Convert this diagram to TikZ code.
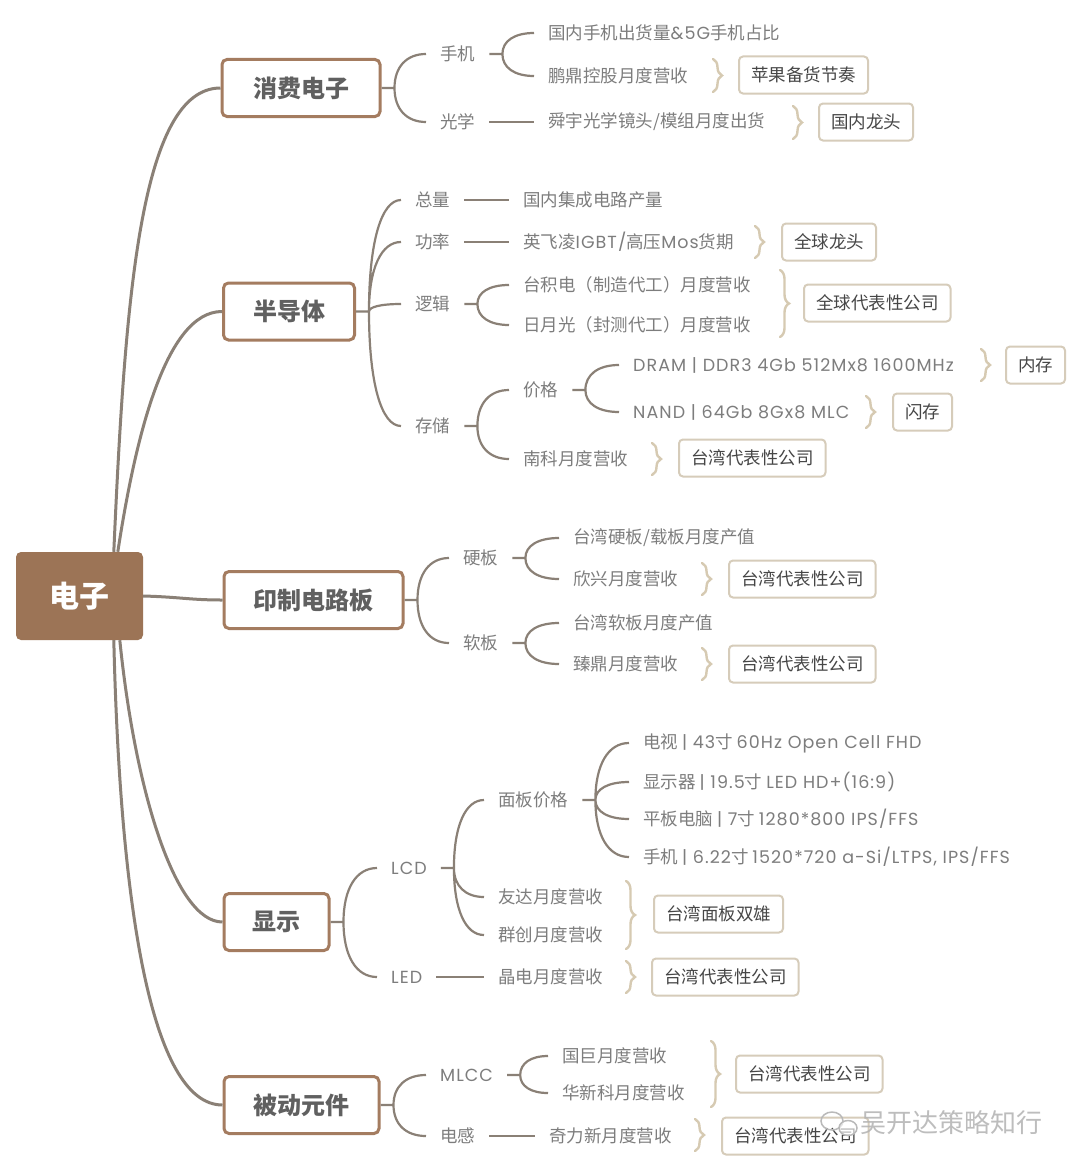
\documentclass[tikz,border=0pt]{standalone}
\usepackage{fontspec}
\setmainfont{Noto Sans CJK SC}
\newfontfamily\lat{Poppins}[LetterSpace=6]
\usetikzlibrary{calc,decorations.pathreplacing}
\definecolor{rootfill}{RGB}{156,116,86}
\definecolor{lborder}{RGB}{164,124,96}
\definecolor{ltext}{RGB}{96,96,96}
\definecolor{linec}{RGB}{138,128,118}
\definecolor{subtext}{RGB}{125,125,125}
\definecolor{boxborder}{RGB}{214,204,186}
\definecolor{boxtext}{RGB}{70,70,70}
\definecolor{bracec}{RGB}{214,202,178}
\newcommand\brc[3]{\draw[bracest] (#1,#2) -- (#1,#3);}
\begin{document}
\begin{tikzpicture}[x=1pt,y=-1pt,
 rootst/.style={fill=rootfill, rounded corners=5pt, minimum width=127pt, minimum height=88pt, text=white, font=\fontsize{30}{32}\selectfont\bfseries, inner sep=0pt},
 lone/.style={draw=lborder, line width=3pt, fill=white, rounded corners=5pt, minimum height=57pt, text=ltext, font=\fontsize{24}{26}\selectfont\bfseries, inner sep=0pt},
 txt/.style={anchor=west, xshift=-14pt, inner xsep=14pt, inner ysep=1pt, text=subtext, font=\fontsize{17.5}{20}\selectfont},
 sbox/.style={anchor=west, draw=boxborder, line width=2pt, rounded corners=4pt, inner xsep=12pt, inner ysep=0pt, minimum height=37pt, text=boxtext, font=\fontsize{17.5}{20}\selectfont},
 mainln/.style={draw=linec, line width=3pt},
 subln/.style={draw=linec, line width=2.2pt},
 bracest/.style={draw=bracec, line width=2.4pt, line cap=round, decorate, decoration={brace, amplitude=9pt, aspect=0.5}},
 fanto/.style={to path={.. controls ($(\tikztostart)!0.62!(\tikztostart |- \tikztotarget)$) and ($(\tikztotarget)!0.62!(\tikztostart |- \tikztotarget)$) .. (\tikztotarget)}},
]
\useasboundingbox[fill=white] (0,0) rectangle (1080,1172);

% root
\node[rootst] (root) at (79.5,596) {电子};

% level 1
\node[lone, minimum width=158pt] (s1) at (301,88) {消费电子};
\node[lone, minimum width=131pt] (s2) at (289,311.5) {半导体};
\node[lone, minimum width=179pt] (s3) at (313.5,600) {印制电路板};
\node[lone, minimum width=105pt] (s4) at (276.5,922) {显示};
\node[lone, minimum width=155pt] (s5) at (301.5,1105) {被动元件};

% root connectors
\draw[mainln] ($(root.north west)+(98,0)$) .. controls (125,300) and (140,88) .. (s1.west);
\draw[mainln] ($(root.north west)+(102,0)$) .. controls (135,440) and (165,311.5) .. (s2.west);
\draw[mainln] (root.east) .. controls (180,597) and (190,600) .. (s3.west);
\draw[mainln] ($(root.south west)+(104,0)$) .. controls (135,790) and (175,922) .. (s4.west);
\draw[mainln] ($(root.south west)+(98,0)$) .. controls (120,900) and (150,1105) .. (s5.west);

% ---------- 消费电子
\node[txt] (a1) at (440,54) {手机};
\node[txt] (a2) at (440,122) {光学};
\node[txt] (a11) at (548,33) {国内手机出货量{\lat\&5G}手机占比};
\node[txt] (a12) at (548,76) {鹏鼎控股月度营收};
\node[txt] (a21) at (548,122) {舜宇光学镜头/模组月度出货};
\node[sbox] (b1) at (738,75) {苹果备货节奏};
\node[sbox] (b2) at (818,122) {国内龙头};
\brc{713}{59}{92}
\brc{793}{106}{139}
\coordinate (J1) at ($(s1.east)+(13,0)$);
\draw[subln] (s1.east) -- (J1) (J1) to[fanto] (a1.west) (J1) to[fanto] (a2.west);
\coordinate (Ja1) at ($(a1.east)+(13,0)$);
\draw[subln] (a1.east) -- (Ja1) (Ja1) to[fanto] (a11.west) (Ja1) to[fanto] (a12.west);
\draw[subln] (a2.east) -- (a21.west);

% ---------- 半导体
\node[txt] (c1) at (415,200) {总量};
\node[txt] (c2) at (415,242) {功率};
\node[txt] (c3) at (415,304) {逻辑};
\node[txt] (c4) at (415,426) {存储};
\node[txt] (c11) at (523,200) {国内集成电路产量};
\node[txt] (c21) at (523,242) {英飞凌{\lat IGBT/}高压{\lat Mos}货期};
\node[txt] (c31) at (523,285) {台积电（制造代工）月度营收};
\node[txt] (c32) at (523,325) {日月光（封测代工）月度营收};
\node[txt] (c41) at (523,390) {价格};
\node[txt] (c42) at (523,459) {南科月度营收};
\node[txt] (c411) at (633,365) {\lat DRAM | DDR3 4Gb 512Mx8 1600MHz};
\node[txt] (c412) at (633,412) {\lat NAND | 64Gb 8Gx8 MLC};
\node[sbox] (b3) at (781,242) {全球龙头};
\node[sbox] (b4) at (803,303) {全球代表性公司};
\node[sbox] (b5) at (1005,365) {内存};
\node[sbox] (b6) at (892,412) {闪存};
\node[sbox] (b7) at (678,458) {台湾代表性公司};
\brc{755}{226}{258}
\brc{780}{270}{337}
\brc{981}{349}{381}
\brc{866}{396}{428}
\brc{652}{443}{475}
\coordinate (J2) at ($(s2.east)+(13,0)$);
\draw[subln] (s2.east) -- (J2) (J2) to[fanto] (c1.west) (J2) to[fanto] (c2.west) (J2) to[fanto] (c3.west) (J2) to[fanto] (c4.west);
\draw[subln] (c1.east) -- (c11.west);
\draw[subln] (c2.east) -- (c21.west);
\coordinate (Jc3) at ($(c3.east)+(13,0)$);
\draw[subln] (c3.east) -- (Jc3) (Jc3) to[fanto] (c31.west) (Jc3) to[fanto] (c32.west);
\coordinate (Jc4) at ($(c4.east)+(13,0)$);
\draw[subln] (c4.east) -- (Jc4) (Jc4) to[fanto] (c41.west) (Jc4) to[fanto] (c42.west);
\coordinate (Jc41) at ($(c41.east)+(13,0)$);
\draw[subln] (c41.east) -- (Jc41) (Jc41) to[fanto] (c411.west) (Jc41) to[fanto] (c412.west);

% ---------- 印制电路板
\node[txt] (d1) at (463,558) {硬板};
\node[txt] (d2) at (463,643) {软板};
\node[txt] (d11) at (573,538) {台湾硬板/载板月度产值};
\node[txt] (d12) at (573,579) {欣兴月度营收};
\node[txt] (d21) at (573,623) {台湾软板月度产值};
\node[txt] (d22) at (573,664) {臻鼎月度营收};
\node[sbox] (b8) at (728,579) {台湾代表性公司};
\node[sbox] (b9) at (728,664) {台湾代表性公司};
\brc{702}{563}{595}
\brc{702}{648}{680}
\coordinate (J3) at ($(s3.east)+(13,0)$);
\draw[subln] (s3.east) -- (J3) (J3) to[fanto] (d1.west) (J3) to[fanto] (d2.west);
\coordinate (Jd1) at ($(d1.east)+(13,0)$);
\draw[subln] (d1.east) -- (Jd1) (Jd1) to[fanto] (d11.west) (Jd1) to[fanto] (d12.west);
\coordinate (Jd2) at ($(d2.east)+(13,0)$);
\draw[subln] (d2.east) -- (Jd2) (Jd2) to[fanto] (d21.west) (Jd2) to[fanto] (d22.west);

% ---------- 显示
\node[txt] (e1) at (391,868) {\lat LCD};
\node[txt] (e2) at (391,977) {\lat LED};
\node[txt] (e11) at (498,800) {面板价格};
\node[txt] (e12) at (498,897) {友达月度营收};
\node[txt] (e13) at (498,935) {群创月度营收};
\node[txt] (e111) at (643,743) {电视\ {\lat |\ 43}寸\ {\lat 60Hz Open Cell FHD}};
\node[txt] (e112) at (643,782) {显示器\ {\lat |\ 19.5}寸\ {\lat LED HD+(16:9)}};
\node[txt] (e113) at (643,819) {平板电脑\ {\lat |\ 7}寸\ {\lat 1280*800 IPS/FFS}};
\node[txt] (e114) at (643,857) {手机\ {\lat |\ 6.22}寸\ {\lat 1520*720 a-Si/LTPS, IPS/FFS}};
\node[txt] (e21) at (498,977) {晶电月度营收};
\node[sbox] (b10) at (653,914) {台湾面板双雄};
\node[sbox] (b11) at (651,977) {台湾代表性公司};
\brc{626}{881}{949}
\brc{626}{961}{993}
\coordinate (J4) at ($(s4.east)+(13,0)$);
\draw[subln] (s4.east) -- (J4) (J4) to[fanto] (e1.west) (J4) to[fanto] (e2.west);
\coordinate (Je1) at ($(e1.east)+(13,0)$);
\draw[subln] (e1.east) -- (Je1) (Je1) to[fanto] (e11.west) (Je1) to[fanto] (e12.west) (Je1) to[fanto] (e13.west);
\coordinate (Je11) at ($(e11.east)+(13,0)$);
\draw[subln] (e11.east) -- (Je11) (Je11) to[fanto] (e111.west) (Je11) to[fanto] (e112.west) (Je11) to[fanto] (e113.west) (Je11) to[fanto] (e114.west);
\draw[subln] (e2.east) -- (e21.west);

% ---------- 被动元件
\node[txt] (f1) at (440,1075) {\lat MLCC};
\node[txt] (f2) at (440,1136) {电感};
\node[txt] (f11) at (562,1056) {国巨月度营收};
\node[txt] (f12) at (562,1093) {华新科月度营收};
\node[txt] (f21) at (549,1136) {奇力新月度营收};
\node[sbox] (b12) at (735,1074) {台湾代表性公司};
\node[sbox] (b13) at (721,1136) {台湾代表性公司};
\brc{711}{1041}{1107}
\brc{695}{1119}{1151}
\coordinate (J5) at ($(s5.east)+(13,0)$);
\draw[subln] (s5.east) -- (J5) (J5) to[fanto] (f1.west) (J5) to[fanto] (f2.west);
\coordinate (Jf1) at ($(f1.east)+(13,0)$);
\draw[subln] (f1.east) -- (Jf1) (Jf1) to[fanto] (f11.west) (Jf1) to[fanto] (f12.west);
\draw[subln] (f2.east) -- (f21.west);

% watermark
\draw[gray!55, line width=1.5pt] (832,1121) ellipse (11pt and 9pt);
\draw[gray!55, line width=1.5pt, fill=white, fill opacity=0.6] (848,1128) ellipse (9pt and 7.5pt);
\node[text=gray!60, text opacity=0.85, font=\fontsize{26}{28}\selectfont, anchor=west, inner sep=0pt] (wm) at (860,1123) {吴开达策略知行};
\end{tikzpicture}
\end{document}
